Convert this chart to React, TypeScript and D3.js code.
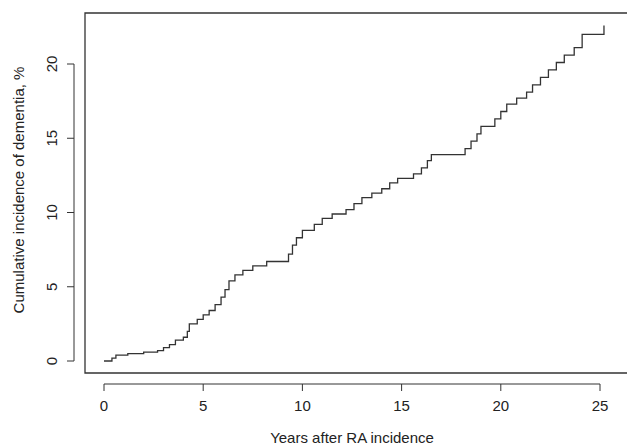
import React from "react";
import * as d3 from "d3";

const times = [0,0.4,0.6,1.2,2.0,2.7,3.0,3.3,3.6,4.0,4.2,4.3,4.7,5.0,5.3,5.6,5.9,6.1,6.3,6.6,7.0,7.5,8.2,9.3,9.5,9.7,10.0,10.6,11.0,11.5,12.2,12.6,13.0,13.5,14.0,14.4,14.8,15.6,16.0,16.3,16.5,18.2,18.5,18.8,19.0,19.7,20.0,20.3,20.8,21.3,21.6,22.0,22.4,22.8,23.2,23.7,24.1,25.2];
const values = [0,0.2,0.4,0.5,0.6,0.7,0.9,1.1,1.4,1.6,2.0,2.5,2.8,3.1,3.4,3.8,4.3,4.8,5.4,5.8,6.1,6.4,6.7,7.2,7.8,8.3,8.8,9.2,9.6,9.9,10.2,10.6,11.0,11.3,11.6,12.0,12.3,12.6,13.0,13.5,13.9,14.3,14.8,15.3,15.8,16.3,16.8,17.3,17.7,18.1,18.6,19.1,19.6,20.1,20.6,21.1,22.0,22.6];
const endTime = 25.2;
const xTicks = [0,5,10,15,20,25];
const yTicks = [0,5,10,15,20];

export default function App() {
  const x = d3.scaleLinear().domain([0,25]).range([104,600]);
  const y = d3.scaleLinear().domain([0,20]).range([361,64]);
  const pts: [number,number][] = times.map((t,i)=>[t,values[i]]);
  pts.push([endTime, values[values.length-1]]);
  const line = d3.line<[number,number]>().x(d=>x(d[0])).y(d=>y(d[1])).curve(d3.curveStepAfter);
  const font = "Liberation Sans, Arial, sans-serif";
  return (
    <svg width={627} height={447} style={{position:"absolute",left:0,top:0}} fontFamily={font}>
      <rect width={627} height={447} fill="#fff"/>
      <path d="M628,13 H85 V373 H628" fill="none" stroke="#333" strokeWidth={1.3}/>
      <line x1={x(0)} x2={x(25)} y1={384} y2={384} stroke="#333"/>
      {xTicks.map(t=>(
        <g key={t}>
          <line x1={x(t)} x2={x(t)} y1={384} y2={391} stroke="#333"/>
          <text x={x(t)} y={411} textAnchor="middle" fontSize={15} fill="#222">{t}</text>
        </g>
      ))}
      <line x1={74} x2={74} y1={y(0)} y2={y(20)} stroke="#333"/>
      {yTicks.map(v=>(
        <g key={v}>
          <line x1={67} x2={74} y1={y(v)} y2={y(v)} stroke="#333"/>
          <text transform={`translate(57,${y(v)}) rotate(-90)`} textAnchor="middle" fontSize={15} fill="#222">{v}</text>
        </g>
      ))}
      <path d={line(pts)!} fill="none" stroke="#333" strokeWidth={1.3}/>
      <text x={352} y={443} textAnchor="middle" fontSize={15} fill="#222">Years after RA incidence</text>
      <text transform="translate(24,190) rotate(-90)" textAnchor="middle" fontSize={15} fill="#222">Cumulative incidence of dementia, %</text>
    </svg>
  );
}
